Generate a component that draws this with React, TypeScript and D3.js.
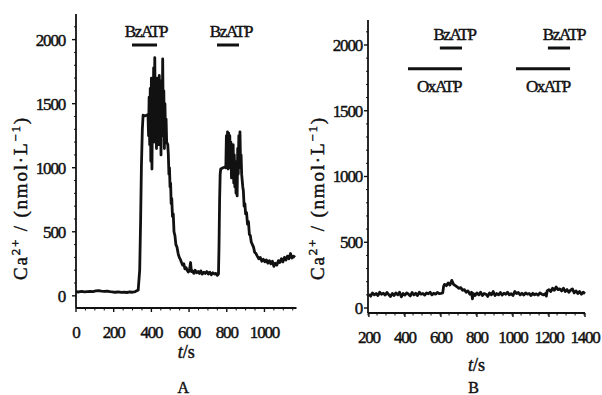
import React from 'react';
import * as d3 from 'd3';

// Panel A trace: time (s) and Ca2+ (nmol/L)
const timeA = [
  0, 15, 30, 45, 60, 75, 90, 105, 120, 135, 150, 165, 180, 195, 210, 225, 240, 255, 270, 285, 300, 315, 330,
  338, 343, 347, 352, 356, 365, 375, 382,
  385, 388, 391, 394, 397, 400, 403, 406, 409, 412, 415, 418, 421, 424, 427, 430, 433, 436, 439, 442, 445, 448,
  451, 454, 457, 460, 463, 466, 469, 472, 475, 478, 481, 484, 487, 490,
  493, 496, 499, 502, 505, 508, 512, 516, 520, 525, 530, 536, 542, 548, 555, 560, 566, 572, 578, 584, 590, 596,
  602, 608, 612, 618, 625, 632, 640, 648, 655, 662, 670, 678, 686, 694, 702, 710, 718, 726, 734, 742, 750, 756,
  759, 762, 765, 768, 780, 790, 795,
  798, 801, 804, 807, 810, 813, 816, 819, 822, 825, 828, 831, 834, 837, 840, 843, 846, 849, 852, 855, 858, 861,
  864, 867, 870, 873, 876, 879, 882, 885,
  888, 892, 896, 900, 905, 910, 915, 920, 925, 930, 936, 942, 948, 955, 962, 970, 978, 986, 994, 1002, 1010,
  1018, 1026, 1034, 1042, 1050, 1058, 1066, 1074, 1082, 1090, 1098, 1106, 1114, 1122, 1130, 1138, 1146, 1154, 1162,
];
const caA = [
  32, 30, 34, 31, 33, 35, 33, 38, 40, 36, 34, 37, 33, 30, 28, 31, 27, 29, 26, 30, 28, 33, 45,
  200, 600, 1000, 1300, 1410, 1405, 1410, 1415,
  1250, 1550, 1180, 1620, 1050, 1700, 990, 1450, 1350, 1780, 1200, 1860, 1300, 1650, 1150, 1700, 1250, 1600, 1180, 1720, 1300, 1680,
  1100, 1550, 1250, 1850, 1350, 1600, 1150, 1500, 1250, 1380, 1200, 1190, 1180, 1100,
  950, 1000, 850, 880, 720, 760, 620, 640, 500, 470, 400, 380, 330, 300, 280, 260, 240, 250, 210, 220, 200, 185,
  200, 260, 190, 195, 175, 200, 180, 190, 175, 195, 170, 185, 175, 190, 170, 185, 165, 180, 170, 175, 160, 170,
  400, 750, 950, 990, 1000, 1005, 1000,
  1250, 1050, 1280, 990, 1270, 1080, 1250, 1000, 1200, 920, 1150, 1100, 1180, 880, 1100, 850, 1050, 800, 1000, 780, 1150, 950,
  1250, 1000, 1280, 1050, 1100, 950, 900, 850,
  820, 700, 720, 640, 650, 560, 580, 480, 470, 420, 400, 380, 340, 330, 310, 290, 300, 270, 285, 265, 280,
  255, 275, 250, 270, 230, 255, 240, 275, 260, 290, 265, 300, 280, 310, 290, 330, 295, 310, 300,
];

// Panel B trace
const timeB = [
  200, 210, 220, 230, 240, 250, 260, 270, 280, 290, 300, 310, 320, 330, 340, 350, 360, 370, 380, 390, 400, 410,
  420, 430, 440, 450, 460, 470, 480, 490, 500, 510, 520, 530, 540, 550, 560, 570, 580, 590, 600, 610, 615, 620,
  630, 640, 650, 660, 670, 680, 690, 700, 710, 720, 730, 740, 750, 760, 770, 775, 780, 790, 800, 810, 820, 830,
  840, 850, 860, 870, 880, 890, 900, 910, 920, 930, 940, 950, 960, 970, 980, 990, 1000, 1010, 1020, 1030, 1040,
  1050, 1060, 1070, 1080, 1090, 1100, 1110, 1120, 1130, 1140, 1150, 1160, 1170, 1180, 1185, 1190, 1200, 1210,
  1220, 1230, 1240, 1250, 1260, 1270, 1280, 1290, 1300, 1310, 1320, 1330, 1340, 1350, 1360, 1370, 1380, 1390, 1400,
];
const caB = [
  105, 90, 115, 100, 110, 95, 120, 105, 112, 98, 118, 102, 88, 110, 95, 115, 100, 120, 85, 110, 98, 115,
  105, 92, 118, 100, 112, 95, 120, 105, 110, 98, 115, 108, 120, 100, 112, 105, 118, 110, 112, 115, 165, 180,
  170, 190, 175, 210, 180, 170, 160, 150, 155, 135, 140, 120, 130, 105, 120, 70, 110, 95, 115, 100, 120, 95,
  110, 105, 88, 115, 100, 125, 95, 110, 100, 118, 98, 112, 105, 120, 100, 108, 95, 125, 110, 118, 100,
  112, 98, 115, 105, 110, 95, 112, 100, 108, 98, 115, 105, 100, 110, 90, 130, 140, 125,
  150, 135, 160, 140, 145, 130, 150, 125, 140, 120, 135, 145, 115, 130, 110, 125, 105, 120, 110,
];

// drug application bars [start, end] in seconds
const bzBarsA = [[297, 430], [748, 865]];
const bzLabelA = [371, 822];
const bzBarsB = [[594, 717], [1194, 1317]];
const bzLabelB = [675, 1283];
const oxBarsB = [[417, 717], [1017, 1317]];
const oxLabelB = [589, 1194];

const xTicksA = [0, 200, 400, 600, 800, 1000];
const xTicksB = [200, 400, 600, 800, 1000, 1200, 1400];
const yTicks = [0, 500, 1000, 1500, 2000];

const FONT = '"Liberation Serif", "DejaVu Serif", serif';
const INK = '#111';

interface PanelProps {
  time: number[];
  ca: number[];
  xDomain: [number, number];
  xRange: [number, number];
  yDomain: [number, number];
  yRange: [number, number];
  xTicks: number[];
  minorStep: number;
  tickLabelGap: number;
  yLabelX: number;
  xTitleY: number;
  letter: string;
  letterY: number;
  bzBars: number[][];
  bzLabel: number[];
  bzY: number;
  oxBars?: number[][];
  oxLabel?: number[];
}

const Panel: React.FC<PanelProps> = (p) => {
  const x = d3.scaleLinear().domain(p.xDomain).range(p.xRange);
  const y = d3.scaleLinear().domain(p.yDomain).range(p.yRange);
  const pts = p.time.map((t, i) => [t, p.ca[i]] as [number, number]);
  const line = d3.line<[number, number]>().x(d => x(d[0])).y(d => y(d[1]));

  const x0 = p.xRange[0];
  const yBase = p.yRange[0];
  const minorX = d3.range(p.xDomain[0], p.xDomain[1] + 1, p.minorStep).filter(v => !p.xTicks.includes(v));
  const minorY = d3.range(100, 2200, 100).filter(v => v % 500 !== 0);
  const midX = (p.xRange[0] + p.xRange[1]) / 2;
  const bold = { stroke: INK, strokeWidth: 0.45 };

  return (
    <g fontFamily={FONT} fill={INK}>
      {/* axes */}
      <line x1={x0} x2={x0} y1={p.yRange[0]} y2={p.yRange[1]} stroke={INK} strokeWidth={1.8} />
      <line x1={x0} x2={p.xRange[1]} y1={yBase} y2={yBase} stroke={INK} strokeWidth={1.8} />
      {yTicks.map(v => (
        <g key={'y' + v}>
          <line x1={x0 - 4} x2={x0} y1={y(v)} y2={y(v)} stroke={INK} strokeWidth={1.4} />
          <text x={x0 - p.tickLabelGap} y={y(v)} dy="0.35em" textAnchor="end" fontSize={17} letterSpacing={-1.2} {...bold}>{v}</text>
        </g>
      ))}
      {minorY.map(v => (
        <line key={'my' + v} x1={x0 - 2} x2={x0} y1={y(v)} y2={y(v)} stroke={INK} strokeWidth={1} />
      ))}
      {p.xTicks.map(v => (
        <g key={'x' + v}>
          <line x1={x(v)} x2={x(v)} y1={yBase} y2={yBase + 4} stroke={INK} strokeWidth={1.4} />
          <text x={x(v)} y={yBase + 30} textAnchor="middle" fontSize={17} letterSpacing={-1.2} {...bold}>{v}</text>
        </g>
      ))}
      {minorX.map(v => (
        <line key={'mx' + v} x1={x(v)} x2={x(v)} y1={yBase - 1} y2={yBase + 2.5} stroke={INK} strokeWidth={1} />
      ))}

      {/* trace */}
      <path d={line(pts) ?? ''} fill="none" stroke={INK} strokeWidth={2.8} strokeLinejoin="round" />

      {/* drug bars */}
      {p.bzBars.map((b, i) => (
        <g key={'bz' + i}>
          <line x1={x(b[0])} x2={x(b[1])} y1={p.bzY} y2={p.bzY} stroke={INK} strokeWidth={3} />
          <text x={x(p.bzLabel[i])} y={p.bzY - 8} textAnchor="middle" fontSize={17} letterSpacing={-1.4} {...bold}>BzATP</text>
        </g>
      ))}
      {p.oxBars?.map((b, i) => (
        <g key={'ox' + i}>
          <line x1={x(b[0])} x2={x(b[1])} y1={y(1820)} y2={y(1820)} stroke={INK} strokeWidth={3} />
          <text x={x(p.oxLabel![i])} y={y(1820) + 23} textAnchor="middle" fontSize={17} letterSpacing={-1.4} {...bold}>OxATP</text>
        </g>
      ))}

      {/* titles */}
      <text transform={`translate(${p.yLabelX},198) rotate(-90)`} textAnchor="middle" fontSize={19} letterSpacing={1.8} {...bold}>
        Ca<tspan dy="-7" fontSize={13}>2+</tspan><tspan dy="7"> / (nmol·L</tspan><tspan dy="-7" fontSize={13}>−1</tspan><tspan dy="7">)</tspan>
      </text>
      <text x={midX} y={p.xTitleY} textAnchor="middle" fontSize={18} {...bold}>
        <tspan fontStyle="italic">t</tspan>/s
      </text>
      <text x={midX - 3} y={p.letterY} textAnchor="middle" fontSize={16} {...bold}>{p.letter}</text>
    </g>
  );
};

const App: React.FC = () => (
  <svg width={602} height={395} style={{ position: 'absolute', left: 0, top: 0, background: '#fff' }}>
    <Panel
      time={timeA} ca={caA}
      xDomain={[0, 1170]} xRange={[76, 296.5]}
      yDomain={[-95, 2200]} yRange={[308, 14]}
      xTicks={xTicksA} minorStep={50} tickLabelGap={11}
      yLabelX={27} xTitleY={358} letter="A" letterY={393}
      bzBars={bzBarsA} bzLabel={bzLabelA} bzY={45}
    />
    <Panel
      time={timeB} ca={caB}
      xDomain={[195, 1400]} xRange={[368, 585]}
      yDomain={[-38, 2190]} yRange={[313, 20]}
      xTicks={xTicksB} minorStep={50} tickLabelGap={6}
      yLabelX={324} xTitleY={371} letter="B" letterY={393}
      bzBars={bzBarsB} bzLabel={bzLabelB} bzY={48}
      oxBars={oxBarsB} oxLabel={oxLabelB}
    />
  </svg>
);

export default App;
